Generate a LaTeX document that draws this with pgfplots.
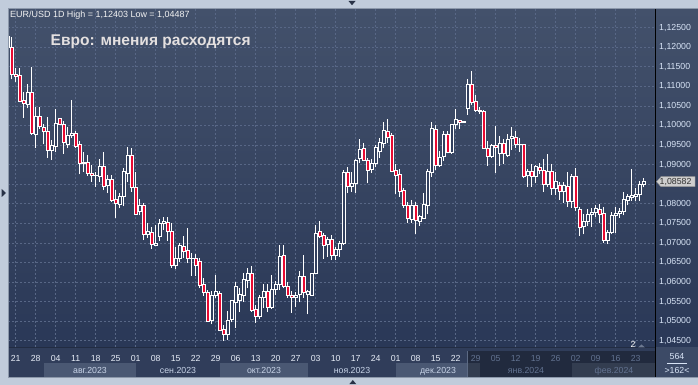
\documentclass[border=0pt]{standalone}
\usepackage{pgfplots}
\pgfplotsset{compat=1.18}
\usepackage{pgfplotstable}
\usepackage{fontspec}
\setmainfont{Liberation Sans}

\definecolor{framec}{RGB}{193,204,219}
\definecolor{frameedge}{RGB}{140,152,170}
\definecolor{bgtop}{RGB}{67,81,107}
\definecolor{bgbot}{RGB}{42,56,87}
\definecolor{gridc}{RGB}{88,103,134}
\definecolor{candred}{RGB}{232,10,50}
\definecolor{hollow}{RGB}{50,64,94}
\definecolor{lbl}{RGB}{216,228,246}
\definecolor{daylbl}{RGB}{230,236,246}
\definecolor{dimlbl}{RGB}{98,114,144}
\definecolor{stripbg}{RGB}{48,61,90}
\definecolor{bandlight}{RGB}{74,88,115}
\definecolor{boxc}{RGB}{60,74,102}
\definecolor{titlec}{RGB}{228,224,224}

\pgfplotstableread{
i o h l c
0 1.1228 1.12403 1.1174 1.1200
1 1.1199 1.1227 1.1118 1.1131
2 1.1131 1.1148 1.1110 1.1125
3 1.1129 1.1146 1.1059 1.1063
4 1.1064 1.1086 1.1020 1.1056
5 1.1054 1.1105 1.1044 1.1085
6 1.1085 1.1149 1.0976 1.0980
7 1.0977 1.1048 1.0943 1.1023
8 1.1023 1.1046 1.0991 1.0997
9 1.0995 1.1003 1.0952 1.0984
10 1.0986 1.1022 1.0918 1.0937
11 1.0937 1.0963 1.0912 1.0950
12 1.0948 1.1042 1.0931 1.1006
13 1.1018 1.1020 1.1001 1.1003
14 1.1003 1.1011 1.0928 1.0957
15 1.0953 1.0996 1.0942 1.0976
16 1.0975 1.1065 1.0967 1.0980
17 1.0980 1.0986 1.0942 1.0946
18 1.0952 1.0960 1.0875 1.0903
19 1.0904 1.0933 1.0882 1.0907
20 1.0906 1.0925 1.0872 1.0878
21 1.0878 1.0899 1.0856 1.0872
22 1.0872 1.0882 1.0844 1.0873
23 1.0869 1.0914 1.0856 1.0896
24 1.0896 1.0933 1.0835 1.0844
25 1.0846 1.0873 1.0827 1.0863
26 1.0863 1.0873 1.0805 1.0808
27 1.0812 1.0835 1.0764 1.0801
28 1.0798 1.0827 1.0788 1.0819
29 1.0818 1.0892 1.0793 1.0882
30 1.0879 1.0944 1.0855 1.0925
31 1.0925 1.0942 1.0831 1.0842
32 1.0842 1.0882 1.0771 1.0774
33 1.0780 1.0812 1.0770 1.0797
34 1.0797 1.0801 1.0707 1.0722
35 1.0722 1.0750 1.0712 1.0729
36 1.0727 1.0741 1.0684 1.0696
37 1.0695 1.0746 1.0693 1.0699
38 1.0716 1.0761 1.0705 1.0750
39 1.0749 1.0767 1.0733 1.0754
40 1.0752 1.0767 1.0705 1.0729
41 1.0730 1.0752 1.0637 1.0643
42 1.0642 1.0690 1.0633 1.0661
43 1.0661 1.0699 1.0650 1.0693
44 1.0691 1.0718 1.0661 1.0678
45 1.0680 1.0737 1.0648 1.0661
46 1.0661 1.0673 1.0616 1.0660
47 1.0661 1.0672 1.0616 1.0642
48 1.0654 1.0661 1.0584 1.0592
49 1.0594 1.0609 1.0565 1.0573
50 1.0573 1.0580 1.0499 1.0500
51 1.0502 1.0577 1.0492 1.0567
52 1.0567 1.0618 1.0558 1.0575
53 1.0571 1.0578 1.0475 1.0477
54 1.0478 1.0489 1.04487 1.0467
55 1.0467 1.0525 1.0452 1.0503
56 1.0505 1.0555 1.0497 1.0553
57 1.0549 1.0601 1.0483 1.0588
58 1.0553 1.0584 1.0523 1.0569
59 1.0567 1.0622 1.0550 1.0607
60 1.0605 1.0635 1.0584 1.0621
61 1.0621 1.0642 1.0524 1.0527
62 1.0530 1.0540 1.0495 1.0512
63 1.0512 1.0566 1.0505 1.0560
64 1.0560 1.0594 1.0533 1.0577
65 1.0577 1.0594 1.0523 1.0535
66 1.0535 1.0618 1.0531 1.0582
67 1.0581 1.0603 1.0568 1.0593
68 1.0595 1.0694 1.0580 1.0665
69 1.0669 1.0694 1.0584 1.0588
70 1.0590 1.0601 1.0560 1.0567
71 1.0567 1.0577 1.0522 1.0561
72 1.0561 1.0575 1.0535 1.0566
73 1.0569 1.0627 1.0548 1.0615
74 1.0615 1.0669 1.0560 1.0573
75 1.0568 1.0580 1.0517 1.0575
76 1.0567 1.0624 1.0565 1.0622
77 1.0622 1.0746 1.0620 1.0725
78 1.0730 1.0755 1.0712 1.0718
79 1.0720 1.0724 1.0660 1.0693
80 1.0697 1.0715 1.0665 1.0709
81 1.0708 1.0720 1.0656 1.0668
82 1.0668 1.0690 1.0656 1.0683
83 1.0683 1.0705 1.0665 1.0700
84 1.0700 1.0887 1.0694 1.0881
85 1.0881 1.0895 1.0828 1.0845
86 1.0845 1.0880 1.0830 1.0852
87 1.0852 1.0915 1.0828 1.0912
88 1.0916 1.0965 1.0905 1.0940
89 1.0942 1.0955 1.0908 1.0912
90 1.0912 1.0918 1.0852 1.0886
91 1.0887 1.0915 1.0878 1.0904
92 1.0904 1.0950 1.0893 1.0944
93 1.0934 1.0967 1.0918 1.0958
94 1.0955 1.1009 1.0943 1.0987
95 1.0986 1.1017 1.0955 1.0971
96 1.0976 1.0980 1.0880 1.0884
97 1.0886 1.0902 1.0826 1.0872
98 1.0875 1.0888 1.0818 1.0833
99 1.0835 1.0840 1.0790 1.0795
100 1.0795 1.0805 1.0752 1.0763
101 1.0761 1.0810 1.0752 1.0797
102 1.0795 1.0805 1.0723 1.0758
103 1.0756 1.0772 1.0744 1.0767
104 1.0763 1.0828 1.0760 1.0798
105 1.0797 1.0888 1.0773 1.0882
106 1.0880 1.1008 1.0868 1.0993
107 1.0991 1.1001 1.0887 1.0897
108 1.0899 1.0935 1.0895 1.0919
109 1.0921 1.0985 1.0910 1.0977
110 1.0977 1.0985 1.0929 1.0931
111 1.0931 1.1005 1.0928 1.1003
112 1.1003 1.1041 1.0990 1.1016
113 1.1013 1.1015 1.0992 1.1008
114 1.1009 1.1012 1.1007 1.1010
115 1.1044 1.1120 1.1028 1.1105
116 1.1105 1.1139 1.1052 1.1059
117 1.1062 1.1077 1.1035 1.1040
118 1.1040 1.1046 1.1030 1.1036
119 1.1036 1.1040 1.0940 1.0942
120 1.0942 1.0960 1.0897 1.0921
121 1.0921 1.0952 1.0917 1.0950
122 1.0950 1.0999 1.0878 1.0944
123 1.0929 1.0974 1.0897 1.0954
124 1.0954 1.0966 1.0902 1.0929
125 1.0925 1.0978 1.0920 1.0965
126 1.0966 1.0995 1.0938 1.0973
127 1.0970 1.0985 1.0942 1.0952
128 1.0952 1.0967 1.0933 1.0953
129 1.0952 1.0953 1.0865 1.0869
130 1.0873 1.0890 1.0844 1.0882
131 1.0884 1.0901 1.0844 1.0869
132 1.0869 1.0898 1.0853 1.0895
133 1.0893 1.0905 1.0877 1.0885
134 1.0885 1.0915 1.0830 1.0850
135 1.0850 1.0926 1.0843 1.0882
136 1.0882 1.0901 1.0823 1.0839
137 1.0839 1.0880 1.0823 1.0857
138 1.0848 1.0855 1.0810 1.0831
139 1.0831 1.0856 1.0803 1.0846
140 1.0845 1.0882 1.0792 1.0805
141 1.0805 1.0875 1.0790 1.0871
142 1.0871 1.0892 1.0782 1.0792
143 1.0786 1.0792 1.0717 1.0741
144 1.0742 1.0775 1.0722 1.0756
145 1.0754 1.0786 1.0743 1.0773
146 1.0773 1.0790 1.0741 1.0779
147 1.0778 1.0797 1.0766 1.0788
148 1.0786 1.0800 1.0750 1.0773
149 1.0775 1.0792 1.0700 1.0707
150 1.0707 1.0733 1.0697 1.0727
151 1.0727 1.0778 1.0722 1.0771
152 1.0770 1.0791 1.0725 1.0776
153 1.0775 1.0788 1.0764 1.0781
154 1.0780 1.0830 1.0770 1.0812
155 1.0808 1.0826 1.0796 1.0818
156 1.0816 1.0888 1.0808 1.0822
157 1.0818 1.0839 1.0807 1.0824
158 1.0824 1.0858 1.0808 1.0850
159 1.0850 1.0866 1.0842 1.08582
}\ohlc

\newcommand{\lblfont}{\fontsize{8.8}{10}\selectfont}
\pgfplotsset{chartgeom/.style={
  at={(0pt,0pt)}, anchor=south west,
  scale only axis, width=647.4bp, height=338.7bp,
  xmin=0.15, xmax=162, ymin=1.04339, ymax=1.12995, clip=true}}

\begin{document}
\begin{tikzpicture}
% outer frame
\fill[framec] (0bp,0bp) rectangle (698bp,385bp);
% chart body
\shade[top color=bgtop,bottom color=bgbot] (8.3bp,38bp) rectangle (698bp,376.7bp);
% date strip
\fill[stripbg] (8.3bp,8bp) rectangle (655.7bp,38bp);
\fill[bandlight] (44bp,8bp) rectangle (136bp,22bp);
\fill[bandlight] (220bp,8bp) rectangle (308bp,22bp);
\fill[bandlight] (396bp,8bp) rectangle (480bp,22bp);
\fill[bandlight] (572bp,8bp) rectangle (655.7bp,22bp);
\fill[black,opacity=0.3] (467bp,8bp) rectangle (655.7bp,34bp);
\draw[line width=0.6bp,color={rgb,255:red,92;green,106;blue,132}] (467bp,8bp) -- (467bp,34bp);
\draw[line width=0.6bp,color={rgb,255:red,34;green,44;blue,66}] (8.3bp,38bp) -- (655.7bp,38bp);
% right bottom box
\fill[boxc] (655.7bp,8bp) rectangle (698bp,38bp);

\begin{scope}[shift={(8.3bp,38bp)}]
% axis 1: grid, tick labels, wicks
\begin{axis}[
  chartgeom,
  axis line style={draw=none},
  major tick length=0pt, tick style={draw=none},
  grid=major,
  major grid style={dash pattern=on 2bp off 2bp, color=gridc, line width=0.6bp},
  xtick={2,7,...,157},
  xticklabels={21,28,04,11,18,25,01,08,15,22,29,06,13,20,27,03,10,17,24,01,08,15,22,
    \textcolor{dimlbl}{29},\textcolor{dimlbl}{05},\textcolor{dimlbl}{12},\textcolor{dimlbl}{19},
    \textcolor{dimlbl}{26},\textcolor{dimlbl}{02},\textcolor{dimlbl}{09},\textcolor{dimlbl}{16},
    \textcolor{dimlbl}{23}},
  xticklabel style={anchor=base, inner sep=0pt, yshift=-14.7bp, font=\lblfont, text=daylbl},
  ytick={1.045,1.05,1.055,1.06,1.065,1.07,1.075,1.08,1.085,1.09,1.095,1.1,1.105,1.11,1.115,1.12,1.125},
  yticklabels={{1,04500},{1,05000},{1,05500},{1,06000},{1,06500},{1,07000},{1,07500},{1,08000},{},
    {1,09000},{1,09500},{1,10000},{1,10500},{1,11000},{1,11500},{1,12000},{1,12500}},
  yticklabel pos=right,
  yticklabel style={anchor=west, inner sep=0pt, xshift=3.3bp, font=\lblfont, text=lbl},
]
\addplot[draw=none, mark=none, forget plot,
  error bars/.cd, y dir=plus, y explicit, error mark=none,
  error bar style={draw=white, line width=0.8bp}]
  table[x=i, y=l, y error expr=\thisrow{h}-\thisrow{l}] {\ohlc};
\end{axis}
% axis 2: candle bodies as stacked bars (invisible base, bullish part, bearish part)
\begin{axis}[
  chartgeom, hide axis,
  ybar stacked, bar width=2.7bp, reverse stacked plots=false,
]
\addplot[draw=none, fill=none] table[x=i, y expr={min(\thisrow{o},\thisrow{c})}] {\ohlc};
\addplot[draw=white, fill=hollow, line width=0.65bp]
  table[x=i, y expr={max(\thisrow{c}-\thisrow{o},0)}] {\ohlc};
\addplot[draw=white, fill=candred, line width=0.65bp]
  table[x=i, y expr={max(\thisrow{o}-\thisrow{c},0)}] {\ohlc};
\end{axis}
\end{scope}

% separators
\draw[black, line width=0.9bp] (655.7bp,8bp) -- (655.7bp,376.7bp);
\draw[frameedge, line width=0.6bp] (8.3bp,8bp) rectangle (698bp,376.7bp);

% month labels
\begin{scope}[every node/.style={anchor=base, inner sep=0pt, font=\lblfont}]
\node[text={rgb,255:red,200;green,212;blue,232}] at (90bp,11.7bp) {авг.2023};
\node[text={rgb,255:red,200;green,212;blue,232}] at (178bp,11.7bp) {сен.2023};
\node[text={rgb,255:red,200;green,212;blue,232}] at (264bp,11.7bp) {окт.2023};
\node[text={rgb,255:red,200;green,212;blue,232}] at (352bp,11.7bp) {ноя.2023};
\node[text={rgb,255:red,200;green,212;blue,232}] at (438bp,11.7bp) {дек.2023};
\node[text=dimlbl] at (526bp,11.7bp) {янв.2024};
\node[text=dimlbl] at (614bp,11.7bp) {фев.2024};
\end{scope}

% header and title
\node[anchor=base west, inner sep=0pt, text={rgb,255:red,242;green,242;blue,242},
  font=\fontsize{9}{10}\selectfont] at (10bp,367.7bp) {EUR/USD 1D High = 1,12403 Low = 1,04487};
\node[anchor=base west, inner sep=0pt, text=titlec,
  font=\fontsize{15.6}{18}\selectfont\bfseries] at (50.5bp,339bp) {Евро: мнения расходятся};

% current price label
\fill[color={rgb,255:red,206;green,206;blue,206}, draw={rgb,255:red,150;green,150;blue,150}, line width=0.4bp]
  (656.5bp,203.3bp) -- (661bp,208.3bp) -- (695bp,208.3bp) -- (695bp,198.3bp) -- (661bp,198.3bp) -- cycle;
\node[anchor=west, inner sep=0pt, text={rgb,255:red,48;green,48;blue,48}, font=\lblfont] at (659.5bp,203.3bp) {1,08582};

% bottom-right box
\node[inner sep=0pt, text=lbl, font=\lblfont] at (677bp,28.3bp) {564};
\draw[lbl, line width=0.5bp] (667bp,21.7bp) -- (687bp,21.7bp);
\node[inner sep=0pt, text=lbl, font=\lblfont] at (677bp,15bp) {>162<};

% small marks
\node[anchor=base, inner sep=0pt, text=white, font=\lblfont] at (633bp,37.9bp) {2};
\fill[color={rgb,255:red,110;green,122;blue,146}] (638bp,37.5bp) -- (645bp,37.5bp) -- (641.5bp,40.5bp) -- cycle;
\fill[color={rgb,255:red,40;green,50;blue,70}] (348.5bp,384bp) -- (355.5bp,384bp) -- (352bp,379.8bp) -- cycle;
\fill[color={rgb,255:red,40;green,50;blue,70}] (349.3bp,0.8bp) -- (356.3bp,0.8bp) -- (352.8bp,5bp) -- cycle;
\fill[color={rgb,255:red,40;green,50;blue,70}] (1.7bp,196bp) -- (1.7bp,188bp) -- (6bp,192bp) -- cycle;

\pgfresetboundingbox
\path[use as bounding box] (0bp,0bp) rectangle (698bp,385bp);
\end{tikzpicture}
\end{document}
